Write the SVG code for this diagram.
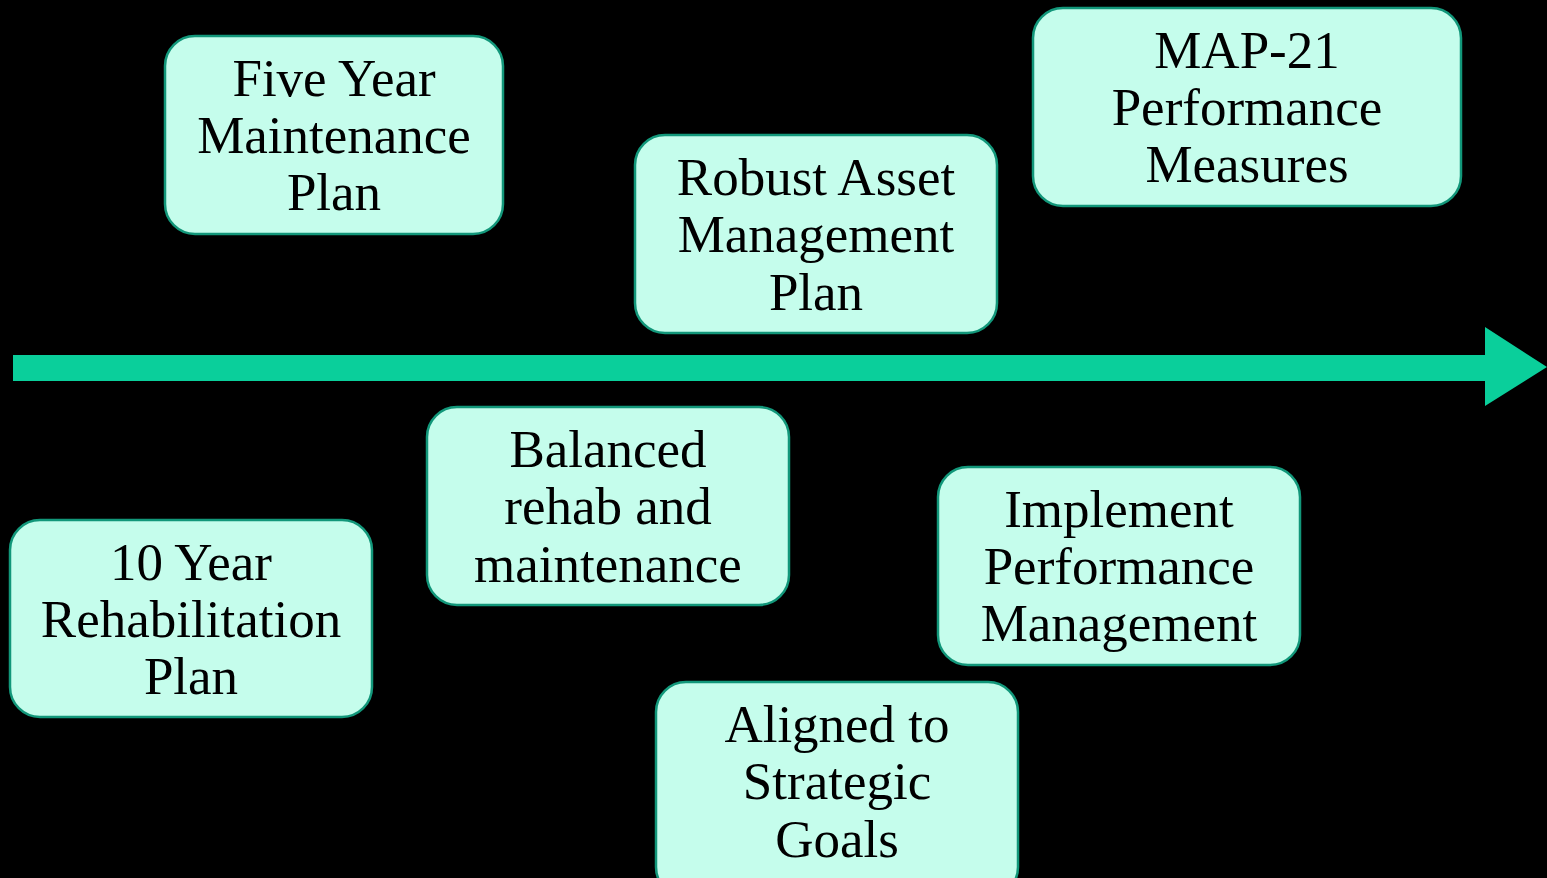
<svg xmlns="http://www.w3.org/2000/svg" width="1547" height="878" viewBox="0 0 1547 878">
<style>
.box{fill:#c5fdec;stroke:#12977a;stroke-width:2.5}
.t{font-family:"Liberation Serif",serif;font-size:53px;fill:#000;text-anchor:middle}
</style>
<rect width="1547" height="878" fill="#000"/>
<g id="connectors">
<polygon points="13,355 1485,355 1485,327 1547,367 1485,406 1485,381 13,381" fill="#0acf9b"/>
</g>
<g id="n1"><rect class="box" x="165" y="36" width="338" height="198" rx="30"/>
<text class="t" x="334" y="96">Five Year</text><text class="t" x="334" y="153">Maintenance</text><text class="t" x="334" y="210">Plan</text></g>
<g id="n2"><rect class="box" x="635" y="135" width="362" height="198" rx="30"/>
<text class="t" x="816" y="195">Robust Asset</text><text class="t" x="816" y="252">Management</text><text class="t" x="816" y="310">Plan</text></g>
<g id="n3"><rect class="box" x="1033" y="8" width="428" height="198" rx="30"/>
<text class="t" x="1247" y="68">MAP-21</text><text class="t" x="1247" y="125">Performance</text><text class="t" x="1247" y="182">Measures</text></g>
<g id="n4"><rect class="box" x="427" y="407" width="362" height="198" rx="30"/>
<text class="t" x="608" y="467">Balanced</text><text class="t" x="608" y="524">rehab and</text><text class="t" x="608" y="582">maintenance</text></g>
<g id="n5"><rect class="box" x="10" y="520" width="362" height="197" rx="30"/>
<text class="t" x="191" y="580">10 Year</text><text class="t" x="191" y="637">Rehabilitation</text><text class="t" x="191" y="694">Plan</text></g>
<g id="n6"><rect class="box" x="938" y="467" width="362" height="198" rx="30"/>
<text class="t" x="1119" y="527">Implement</text><text class="t" x="1119" y="584">Performance</text><text class="t" x="1119" y="641">Management</text></g>
<g id="n7"><rect class="box" x="656" y="682" width="362" height="215" rx="30"/>
<text class="t" x="837" y="742">Aligned to</text><text class="t" x="837" y="799">Strategic</text><text class="t" x="837" y="857">Goals</text></g>
</svg>
